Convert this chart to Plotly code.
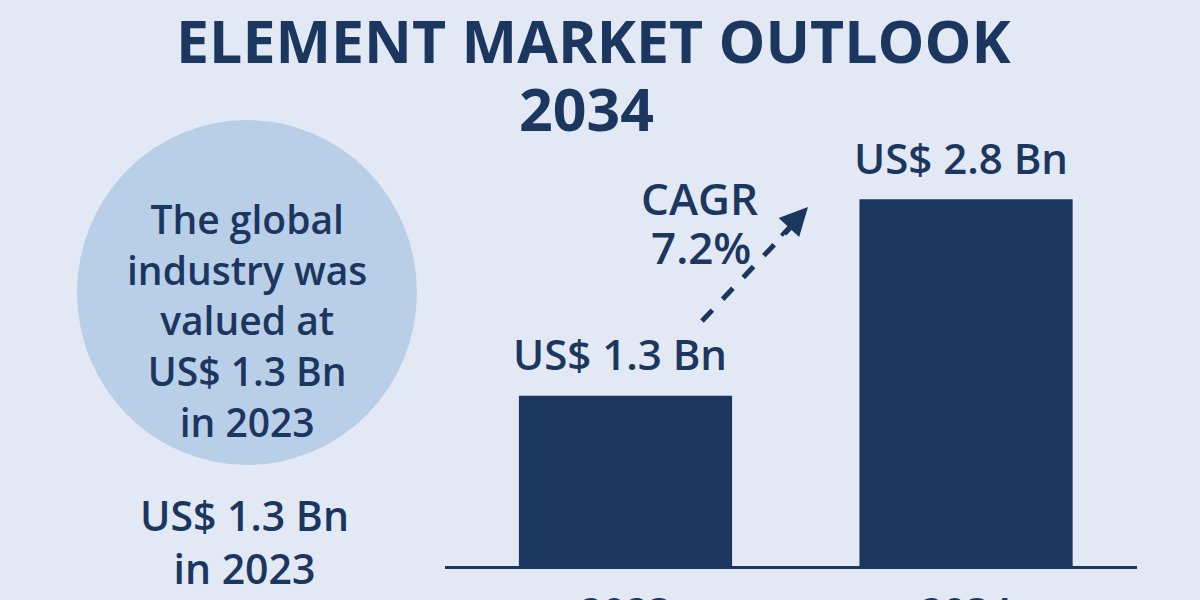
import plotly.graph_objects as go

years = ["2023", "2034"]
values = [1.3, 2.8]
value_labels = ["US$ 1.3 Bn", "US$ 2.8 Bn"]
title_lines = ["ELEMENT MARKET OUTLOOK", "2034"]
circle_text = "The global<br>industry was<br>valued at<br>US$ 1.3 Bn<br>in 2023"
bottom_text = "US$ 1.3 Bn<br>in 2023"
cagr_lines = ["CAGR", "7.2%"]

NAVY = "#1b365f"
BG = "#e2e9f4"
CIRCLE = "#b9cfe8"
FONT = "Open Sans"

W, H = 1200, 600
B = 34
PH = H - B  # paper height in px
PLOT_TOP = 130
PX_PER_UNIT = 131

def px(x):
    return x / W

def py(y):
    return (PH - y) / PH

fig = go.Figure()
fig.add_trace(go.Bar(
    x=years, y=values, marker_color=NAVY, width=0.626,
    marker_line_width=0, showlegend=False, hoverinfo="skip",
))

annotations = []
for i, (v, lab) in enumerate(zip(values, value_labels)):
    annotations.append(dict(x=i, y=v, xref="x", yref="y", text=lab, showarrow=False,
                            xanchor="center", yanchor="middle", yshift=42, xshift=-5,
                            font=dict(family=FONT, size=42, color=NAVY, weight=600)))

def txt(x, y, text, size, weight=600):
    return dict(x=px(x), y=py(y), xref="paper", yref="paper", text=text, showarrow=False,
                xanchor="center", yanchor="middle", align="center",
                font=dict(family=FONT, size=size, color=NAVY, weight=weight))

annotations += [
    txt(594, 40, title_lines[0], 59, 700),
    txt(586, 108, title_lines[1], 59, 700),
    txt(247, 320, circle_text, 39),
    txt(244, 541, bottom_text, 41),
    txt(699, 198, cagr_lines[0], 44),
    txt(701, 247, cagr_lines[1], 44),
    dict(x=px(808), y=py(207), xref="paper", yref="paper", text="", showarrow=True,
         ax=-28, ay=30, arrowhead=2, arrowsize=1.4, arrowwidth=4, arrowcolor=NAVY),
]

shapes = [
    dict(type="circle", xref="paper", yref="paper", x0=px(77), x1=px(417), y0=py(465), y1=py(120),
         fillcolor=CIRCLE, line_width=0, layer="below"),
    dict(type="line", xref="paper", yref="paper", x0=px(702), y0=py(321), x1=px(790), y1=py(228),
         line=dict(color=NAVY, width=5, dash="dash")),
]

fig.update_layout(
    width=W, height=H,
    margin=dict(l=0, r=0, t=0, b=B),
    paper_bgcolor=BG, plot_bgcolor=BG,
    annotations=annotations, shapes=shapes,
    xaxis=dict(type="category", domain=[px(445), px(1137)], range=[-0.530, 1.502], showline=True,
               linecolor=NAVY, linewidth=3, showgrid=False, ticks="", ticklabelstandoff=10,
               automargin=False, tickfont=dict(family=FONT, size=40, color=NAVY, weight=600)),
    yaxis=dict(domain=[0, py(PLOT_TOP)], range=[0, (PH - PLOT_TOP) / PX_PER_UNIT], visible=False,
               automargin=False),
)

fig.write_html("out.html")
